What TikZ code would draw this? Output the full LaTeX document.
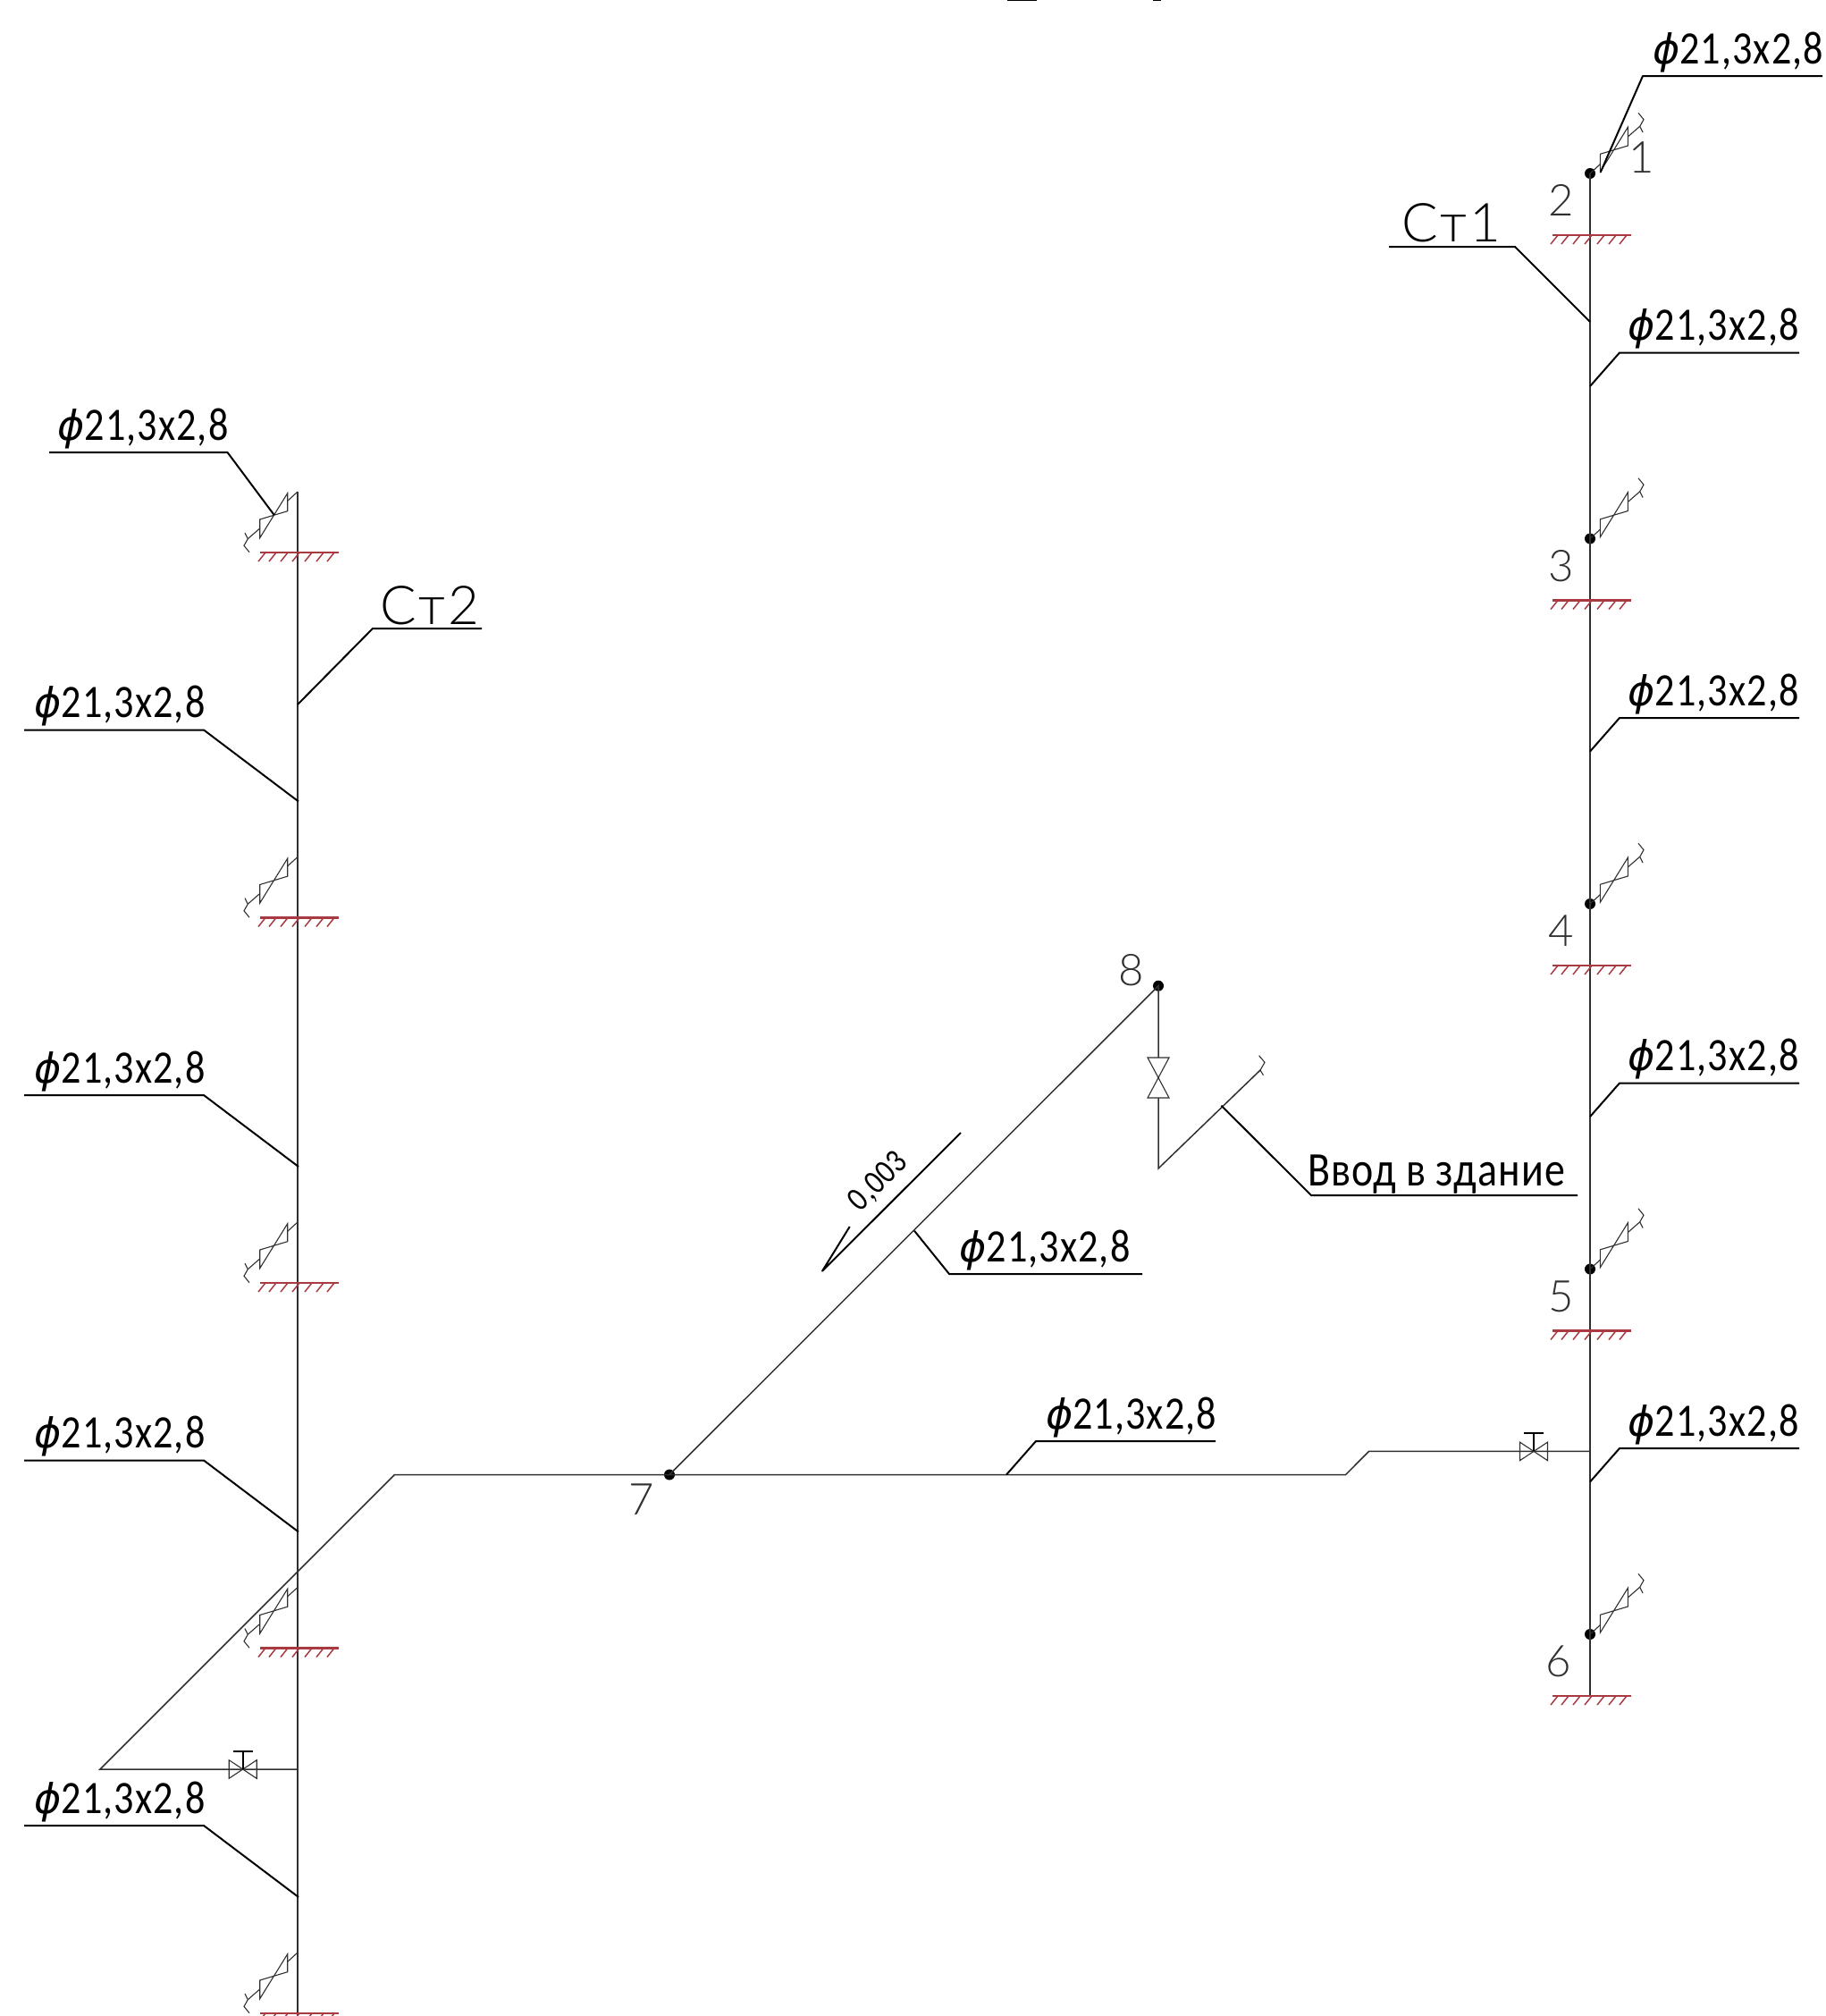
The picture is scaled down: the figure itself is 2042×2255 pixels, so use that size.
\documentclass[tikz,border=0pt]{standalone}
\usepackage{fontspec}
\setmainfont{Carlito}[FakeStretch=0.85,LetterSpace=2]
\newfontfamily\lightfont{Lato Light}[LetterSpace=5]
\newfontfamily\numfont{Lato Light}
\newfontfamily\phifont{DejaVu Sans Oblique}
\usepackage{xcolor}
\usetikzlibrary{positioning, calc}
\definecolor{hatchred}{HTML}{A93A42}
\definecolor{pipegray}{HTML}{303030}
\newcommand{\sizetext}{{\phifont\fontsize{23pt}{23pt}\selectfont ϕ}21,3x2,8}
\tikzset{
  pipe/.style={draw=pipegray, line width=0.75pt},
  leader/.style={draw=black, line width=1pt, line join=round},
  symline/.style={draw=pipegray, line width=0.55pt},
  pipedot/.style={circle, fill=black, inner sep=0pt, minimum size=6pt},
  sizetag/.style={inner sep=0pt, anchor=base, font=\fontsize{26pt}{26pt}\selectfont},
  inlettag/.style={inner sep=0pt, anchor=base, font=\fontsize{27pt}{27pt}\selectfont},
  numtag/.style={inner sep=0pt, anchor=base, text=pipegray, font=\numfont\fontsize{24.5pt}{24.5pt}\selectfont},
  risertag/.style={inner sep=0pt, anchor=base, font=\lightfont\fontsize{30pt}{30pt}\selectfont},
  floorhatch/.pic={
    \draw[hatchred, line width=1.1pt] (-42,0) -- (46,0);
    \foreach \t in {-36,-24,-11,2,16,29,41}
      \draw[hatchred, line width=0.75pt] (\t,0) -- ++(-8,10);
  },
  heatvalve/.pic={
    \draw[symline] (0,0) -- (11.3,-10.3);
    \draw[symline] (11.3,-21.7) -- (11.3,-1.7) -- (42.3,-51.7) -- (42.3,-31) -- cycle;
    \draw[symline] (42.3,-41) -- (55.7,-52.7);
    \draw[symline] (54,-67.7) -- (60,-60.3) -- (55.7,-52.7) -- (59,-46);
  },
  gatevalve/.pic={
    \draw[symline] (0,0) -- (-15.5,-10.3) -- (-15.5,10.3) -- (15.5,-10.3) -- (15.5,10.3) -- cycle;
    \draw[leader] (0,0) -- (0,-20);
    \draw[leader] (-11,-20) -- (11,-20);
  }
}
\begin{document}
\begin{tikzpicture}[x=0.5pt, y=-0.5pt]
  \useasboundingbox (0,0) rectangle (2042,2255);
  % right riser
  \node[pipedot] (d2) at (1779,194) {};
  \node[pipedot] (d3) at (1779,602.5) {};
  \node[pipedot] (d4) at (1779,1011) {};
  \node[pipedot] (d5) at (1779,1419.5) {};
  \node[pipedot] (d6) at (1779,1828) {};
  \coordinate (rend) at (1779,1897);
  \draw[pipe] (d2.center) -- (rend);
  \pic at (d2.center) {heatvalve};
  \pic at (d3.center) {heatvalve};
  \pic at (d4.center) {heatvalve};
  \pic at (d5.center) {heatvalve};
  \pic at (d6.center) {heatvalve};
  \pic at (1779,263) {floorhatch};
  \pic at (1779,671.5) {floorhatch};
  \pic at (1779,1080) {floorhatch};
  \pic at (1779,1488.5) {floorhatch};
  \pic at (1779,1897) {floorhatch};
  \node[numtag] (n1) at (1836.7,193) {1};
  \node[numtag] (n2) at (1746.7,241.7) {2};
  \node[numtag] (n3) at (1746.7,650.2) {3};
  \node[numtag] (n4) at (1746.7,1058.7) {4};
  \node[numtag] (n5) at (1746.7,1467.2) {5};
  \node[numtag] (n6) at (1744,1875.7) {6};
  % left riser
  \coordinate (ltop) at (333,550);
  \coordinate (lend) at (333,2255);
  \draw[pipe] (ltop) -- (lend);
  \pic[rotate=180] at (333,550) {heatvalve};
  \pic[rotate=180] at (333,958.5) {heatvalve};
  \pic[rotate=180] at (333,1367) {heatvalve};
  \pic[rotate=180] at (333,1775.5) {heatvalve};
  \pic[rotate=180] at (333,2184) {heatvalve};
  \pic at (333,618) {floorhatch};
  \pic at (333,1026.5) {floorhatch};
  \pic at (333,1435) {floorhatch};
  \pic at (333,1843.5) {floorhatch};
  \pic at (333,2252) {floorhatch};
  % main pipe
  \node[pipedot] (d7) at (749,1649.5) {};
  \node[pipedot] (d8) at (1296,1102.7) {};
  \coordinate (lbranch) at (333,1979);
  \coordinate (lfar) at (112,1979);
  \coordinate (lbend) at (441.5,1649.5);
  \coordinate (rjog) at (1505.6,1649.5);
  \coordinate (rjog2) at (1531.5,1623.4);
  \coordinate (rbranch) at (1779,1623.4);
  \draw[pipe] (lbranch) -- (lfar) -- (lbend) -- (d7.center) -- (rjog) -- (rjog2) -- (rbranch);
  \pic at (271.7,1979) {gatevalve};
  \pic at (1716,1623.4) {gatevalve};
  \coordinate (inlow) at (1296,1307);
  \coordinate (inend) at (1410,1197);
  \draw[pipe] (d7.center) -- (d8.center) -- (inlow) -- (inend);
  \draw[symline] (1408.6,1180.7) -- (1415,1188.3) -- (1410,1197) -- (1413.5,1202.7);
  \draw[symline, fill=white] (1284,1183) -- (1308,1183) -- (1284,1228) -- (1308,1228) -- cycle;
  \node[numtag] (n7) at (718,1694) {7};
  \node[numtag] (n8) at (1266,1102.7) {8};
  % leaders right
  \coordinate (a0) at (1790.7,192.7);
  \coordinate (b0) at (1838,85);
  \coordinate (c0) at (2039,85);
  \draw[leader] (a0) -- (b0) -- (c0);
  \node[sizetag] (s0) at (1944.5,71) {\sizetext};
  \coordinate (a1) at (1779,432);
  \coordinate (b1) at (1812,394.5);
  \coordinate (c1) at (2013,394.5);
  \draw[leader] (a1) -- (b1) -- (c1);
  \node[sizetag] (s1) at (1917,380.5) {\sizetext};
  \coordinate (a2) at (1779,840.5);
  \coordinate (b2) at (1812,803);
  \coordinate (c2) at (2013,803);
  \draw[leader] (a2) -- (b2) -- (c2);
  \node[sizetag] (s2) at (1917,789) {\sizetext};
  \coordinate (a3) at (1779,1249);
  \coordinate (b3) at (1812,1211.5);
  \coordinate (c3) at (2013,1211.5);
  \draw[leader] (a3) -- (b3) -- (c3);
  \node[sizetag] (s3) at (1917,1197.5) {\sizetext};
  \coordinate (a4) at (1779,1657.5);
  \coordinate (b4) at (1812,1620);
  \coordinate (c4) at (2013,1620);
  \draw[leader] (a4) -- (b4) -- (c4);
  \node[sizetag] (s4) at (1917,1606) {\sizetext};
  % leaders left
  \coordinate (a5) at (306.7,576);
  \coordinate (b5) at (254.5,506);
  \coordinate (c5) at (55,506);
  \draw[leader] (a5) -- (b5) -- (c5);
  \node[sizetag] (s5) at (160,492) {\sizetext};
  \coordinate (a6) at (334,896.5);
  \coordinate (b6) at (228,816.5);
  \coordinate (c6) at (27,816.5);
  \draw[leader] (a6) -- (b6) -- (c6);
  \node[sizetag] (s6) at (134,802.5) {\sizetext};
  \coordinate (a7) at (334,1305);
  \coordinate (b7) at (228,1225);
  \coordinate (c7) at (27,1225);
  \draw[leader] (a7) -- (b7) -- (c7);
  \node[sizetag] (s7) at (134,1211) {\sizetext};
  \coordinate (a8) at (334,1713.5);
  \coordinate (b8) at (228,1633.5);
  \coordinate (c8) at (27,1633.5);
  \draw[leader] (a8) -- (b8) -- (c8);
  \node[sizetag] (s8) at (134,1619.5) {\sizetext};
  \coordinate (a9) at (334,2122);
  \coordinate (b9) at (228,2042);
  \coordinate (c9) at (27,2042);
  \draw[leader] (a9) -- (b9) -- (c9);
  \node[sizetag] (s9) at (134,2028) {\sizetext};
  % leaders middle
  \coordinate (a10) at (1023,1376.7);
  \coordinate (b10) at (1062,1425);
  \coordinate (c10) at (1278,1425);
  \draw[leader] (a10) -- (b10) -- (c10);
  \node[sizetag] (s10) at (1169,1411) {\sizetext};
  \coordinate (a11) at (1126,1649.5);
  \coordinate (b11) at (1159,1612);
  \coordinate (c11) at (1360,1612);
  \draw[leader] (a11) -- (b11) -- (c11);
  \node[sizetag] (s11) at (1265.5,1598) {\sizetext};
  \coordinate (a12) at (1366.5,1236.7);
  \coordinate (b12) at (1467,1337);
  \coordinate (c12) at (1765,1337);
  \draw[leader] (a12) -- (b12) -- (c12);
  \node[inlettag] (inlet) at (1607,1326.7) {Ввод в здание};
  % riser tags
  \coordinate (a13) at (1779,360);
  \coordinate (b13) at (1695,276);
  \coordinate (c13) at (1554,276);
  \draw[leader] (a13) -- (b13) -- (c13);
  \node[risertag] (st1) at (1624,270) {Ст1};
  \coordinate (a14) at (333,788);
  \coordinate (b14) at (417,703);
  \coordinate (c14) at (539,703);
  \draw[leader] (a14) -- (b14) -- (c14);
  \node[risertag] (st2) at (481,698) {Ст2};
  % slope
  \coordinate (slopea) at (1075,1267);
  \coordinate (slopeb) at (920,1421.7);
  \coordinate (slopec) at (950.7,1372);
  \draw[leader] (slopea) -- (slopeb) -- (slopec);
  \node[inner sep=0pt, rotate=45, font=\fontsize{19pt}{19pt}\selectfont] (slopetag) at (983,1322) {0,003};
  % top edge
  \draw[leader] (1127,0) -- (1160,0);
  \draw[leader] (1290,0) -- (1299,0);
\end{tikzpicture}
\end{document}
